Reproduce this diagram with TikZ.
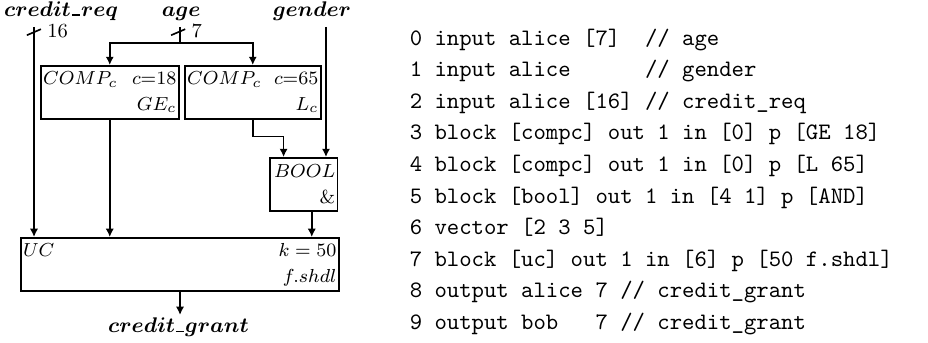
\documentclass[tikz,border=0pt]{standalone}
\usepackage{amsmath}
\usepackage{amssymb}
\usepackage{tikz}
\usetikzlibrary{arrows.meta}
\newcommand{\uscore}{\kern0.4pt\rule{3.5pt}{0.8pt}\kern0.4pt}

\tikzset{
	blk/.style={draw, line width=0.7pt, inner sep=1pt, anchor=north west, font=\fontsize{8.5}{11}\selectfont, align=right, minimum height=0.79cm},
	wire/.style={line width=0.7pt},
	arr/.style={wire, -{Latex[length=3.5pt,width=3.5pt]}},
	code/.style={anchor=base west, inner sep=0pt, font=\ttfamily},
	lbl/.style={anchor=base, font=\small},
	bits/.style={anchor=base west, inner sep=0pt, font=\fontsize{8.5}{10}\selectfont},
}

\begin{document}
\begin{tikzpicture}
		\useasboundingbox (0, 0) rectangle (13.83, -5.11);

		% inputs
		\node[lbl] (creq) at (0.91, -0.24) {$\boldsymbol{credit}\uscore\boldsymbol{req}$};
		\node[lbl] (age) at (2.70, -0.24) {$\boldsymbol{age}$};
		\node[lbl] (gender) at (4.65, -0.24) {$\boldsymbol{gender}$};
		\coordinate (creqtop) at (0.507, -0.40);
		\coordinate (agetop) at (2.683, -0.40);
		\coordinate (gentop) at (4.858, -0.40);
		\coordinate (split) at (2.683, -0.64);

		% blocks
		\node[blk, text width=1.985cm] (cmpa) at (0.596, -0.969) {$COMP_c$\hfill$c{=}18$\\$GE_c$};
		\node[blk, text width=1.955cm] (cmpb) at (2.742, -0.969) {$COMP_c$\hfill$c{=}65$\\$L_c$};
		\node[blk, text width=0.94cm] (bool) at (4.009, -2.34) {$BOOL$\\$\&$};
		\node[blk, text width=4.667cm] (uc) at (0.298, -3.532) {$UC$\hfill$k=50$\\$f.shdl$};
		\node[lbl] (grant) at (2.66, -4.955) {$\boldsymbol{credit}\uscore\boldsymbol{grant}$};
		\coordinate (out) at (2.683, -4.694);

		% wires
		\draw[arr] (creqtop) -- (creqtop |- uc.north);
		\draw[wire] (agetop) -- (split);
		\draw[arr] (split) -| (cmpa.north);
		\draw[arr] (split) -| (cmpb.north);
		\draw[arr] (gentop) -- (gentop |- bool.north);
		\draw[arr] (cmpa.south) -- (cmpa.south |- uc.north);
		\draw[arr] (cmpb.south) -- ++(0, -0.253) -| ([xshift=-0.3cm]bool.north);
		\draw[arr] ([xshift=0.12cm]bool.south) -- ([xshift=0.12cm]bool.south |- uc.north);
		\draw[arr] (uc.south -| out) -- (out);

		% bit widths
		\draw[wire] (0.40, -0.525) -- (0.61, -0.435);
		\node[bits] (w16) at (0.70, -0.565) {16};
		\draw[wire] (2.55, -0.525) -- (2.76, -0.435);
		\node[bits] (w7) at (2.85, -0.565) {7};

		% program
		\foreach \txt [count=\i from 0] in {
				{0 input alice [7]\ \ // age},
				{1 input alice\ \ \ \ \ \ // gender},
				{2 input alice [16] // credit\_req},
				{3 block [compc] out 1 in [0] p [GE 18]},
				{4 block [compc] out 1 in [0] p [L 65]},
				{5 block [bool] out 1 in [4 1] p [AND]},
				{6 vector [2 3 5]},
				{7 block [uc] out 1 in [6] p [50 f.shdl]},
				{8 output alice 7 // credit\_grant},
				{9 output bob\ \ \ 7 // credit\_grant}}
			\node[code] (line\i) at (6.10, -0.671 - 0.4709*\i) {\ignorespaces\txt};
	\end{tikzpicture}
\end{document}
